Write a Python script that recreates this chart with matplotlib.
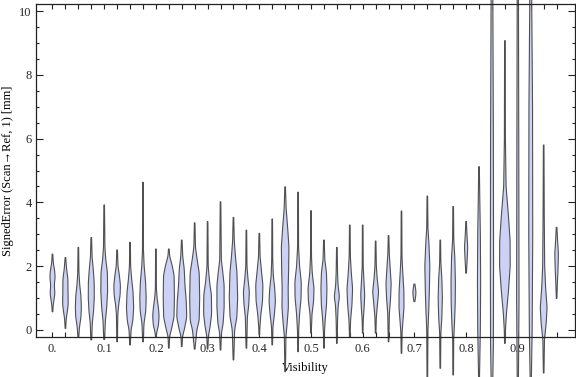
import numpy as np
import matplotlib.pyplot as plt
from matplotlib.ticker import FixedLocator, MultipleLocator

plt.rcParams['font.family'] = ['Liberation Serif', 'DejaVu Serif']

# one violin per visibility bin
visibility = [0.0, 0.025, 0.05, 0.075, 0.1, 0.125, 0.15, 0.175, 0.2, 0.225,
              0.25, 0.275, 0.3, 0.325, 0.35, 0.375, 0.4, 0.425, 0.45, 0.475,
              0.5, 0.525, 0.55, 0.575, 0.6, 0.625, 0.65, 0.675, 0.7, 0.725,
              0.75, 0.775, 0.8, 0.825, 0.85, 0.875, 0.9, 0.925, 0.95, 0.975]

# outline of each violin: error levels [mm] (top -> bottom)
levels = [
    [2.38, 2.1, 1.85, 1.65, 1.4, 1.15, 0.95, 0.75, 0.57],
    [2.27, 1.9, 1.6, 1.2, 0.8, 0.55, 0.35, 0.05],
    [2.59, 1.8, 1.4, 1.1, 0.7, 0.4, 0.1, -0.21],
    [2.9, 2.3, 1.9, 1.5, 1.0, 0.6, 0.2, -0.31],
    [3.92, 2.6, 2.2, 1.8, 1.2, 0.7, 0.3, -0.3],
    [2.51, 2.0, 1.7, 1.4, 1.1, 0.8, 0.5, -0.37],
    [2.75, 2.0, 1.6, 1.2, 0.7, 0.3, 0.0, -0.47],
    [4.63, 2.5, 2.0, 1.5, 1.0, 0.6, 0.2, -0.37],
    [2.54, 1.3, 1.0, 0.7, 0.45, 0.15, -0.05, -0.21],
    [2.54, 2.3, 2.0, 1.7, 1.0, 0.4, 0.0, -0.2, -0.57],
    [2.82, 2.3, 1.9, 1.4, 0.9, 0.4, 0.0, -0.2, -0.52],
    [3.36, 2.6, 2.2, 1.8, 1.0, 0.3, 0.0, -0.6],
    [3.4, 2.0, 1.5, 1.1, 0.5, 0.1, -0.2, -0.6],
    [4.02, 2.2, 1.8, 1.4, 0.7, 0.2, -0.1, -0.63],
    [3.53, 2.8, 2.3, 1.8, 1.0, 0.4, 0.0, -0.94],
    [3.13, 2.0, 1.6, 1.2, 0.8, 0.4, -0.57],
    [3.03, 2.3, 1.9, 1.4, 0.9, 0.5, 0.1, -0.16],
    [3.48, 2.2, 1.7, 1.3, 0.9, 0.5, 0.1, -0.47],
    [4.49, 3.8, 3.2, 2.6, 1.9, 1.3, 0.7, 0.2, -0.2, -1.31],
    [4.32, 2.6, 2.0, 1.5, 1.0, 0.5, 0.0, -0.68],
    [3.74, 2.3, 1.8, 1.3, 0.9, 0.5, -0.1],
    [2.82, 2.2, 1.8, 1.3, 0.8, 0.3, -0.1, -0.57],
    [2.59, 1.8, 1.4, 1.05, 0.75, 0.3, -0.42],
    [3.29, 2.3, 1.8, 1.3, 0.8, 0.3, -0.21],
    [3.29, 2.0, 1.5, 1.1, 0.7, 0.3, -0.1],
    [2.79, 2.0, 1.6, 1.2, 0.8, 0.4, -0.1],
    [2.96, 2.4, 1.9, 1.45, 1.0, 0.5, -0.37],
    [3.73, 2.3, 1.8, 1.2, 0.7, 0.3, -0.1, -0.73],
    [1.44, 1.3, 1.15, 1.0, 0.89],
    [4.2, 3.2, 2.7, 2.0, 1.2, 0.6, 0.0, -1.6],
    [2.82, 2.1, 1.6, 1.0, 0.4, -0.1, -1.2],
    [3.87, 2.8, 2.3, 1.5, 0.8, 0.2, -0.3, -1.41],
    [3.4, 3.0, 2.6, 2.3, 1.78],
    [5.12, 4.0, 3.0, 1.5, 0.0, -1.6],
    [11.0, 6.0, 2.0, -0.5, -1.6],
    [9.07, 6.0, 4.5, 3.6, 2.8, 2.0, 1.2, 0.5, 0.0, -0.42],
    [11.0, 5.0, 1.0, -1.6],
    [11.0, 7.0, 3.0, 0.0, -1.6],
    [5.8, 3.5, 2.0, 1.3, 0.7, 0.2, -0.3, -1.35],
    [3.22, 2.8, 2.4, 1.9, 1.4, 0.99],
]

# half widths at those levels (pixels of the original)
widths = [
    [0.3, 0.8, 2.2, 2.6, 1.8, 2.4, 1.5, 0.6, 0.3],
    [0.3, 1.2, 2.5, 2.6, 2.8, 1.8, 0.8, 0.3],
    [0.3, 0.6, 1.4, 2.5, 3.0, 2.6, 1.2, 0.4],
    [0.3, 0.8, 2.0, 2.9, 3.0, 2.3, 1.0, 0.4],
    [0.3, 0.7, 1.6, 3.2, 3.4, 2.5, 1.2, 0.4],
    [0.3, 0.9, 2.3, 3.3, 3.0, 1.6, 0.7, 0.3],
    [0.3, 0.6, 1.6, 3.0, 3.6, 2.8, 1.0, 0.3],
    [0.3, 0.5, 1.2, 2.6, 3.2, 2.8, 1.0, 0.3],
    [0.3, 0.5, 1.2, 2.5, 3.2, 2.6, 1.0, 0.3],
    [0.3, 0.9, 3.5, 5.3, 5.6, 5.2, 2.5, 0.8, 0.3],
    [0.3, 1.0, 2.5, 3.2, 4.5, 5.0, 2.5, 0.8, 0.3],
    [0.3, 0.8, 2.5, 4.5, 5.0, 4.5, 2.2, 0.3],
    [0.3, 0.6, 2.0, 3.8, 4.0, 2.5, 0.8, 0.3],
    [0.3, 0.8, 2.3, 3.6, 3.6, 2.6, 0.9, 0.3],
    [0.3, 0.8, 2.0, 3.5, 4.2, 3.4, 1.2, 0.3],
    [0.3, 0.6, 1.6, 3.0, 2.4, 1.0, 0.3],
    [0.3, 0.8, 2.0, 3.6, 3.2, 1.6, 0.6, 0.3],
    [0.3, 0.5, 1.1, 2.5, 3.2, 2.2, 0.7, 0.3],
    [0.3, 1.0, 2.5, 3.8, 3.5, 3.0, 3.2, 2.0, 0.8, 0.3],
    [0.3, 0.5, 1.5, 3.2, 3.0, 1.5, 0.6, 0.3],
    [0.3, 0.5, 1.2, 3.0, 2.6, 1.0, 0.3],
    [0.3, 0.9, 2.5, 3.0, 2.6, 1.2, 0.5, 0.3],
    [0.3, 0.7, 1.2, 2.6, 1.3, 0.7, 0.3],
    [0.3, 0.6, 1.5, 2.8, 2.2, 0.8, 0.3],
    [0.3, 0.5, 1.3, 2.0, 1.4, 0.5, 0.3],
    [0.3, 0.7, 1.6, 3.0, 1.8, 0.7, 0.3],
    [0.3, 0.7, 1.7, 2.6, 2.0, 0.8, 0.3],
    [0.3, 0.5, 1.3, 2.4, 2.5, 1.5, 0.6, 0.3],
    [0.4, 1.2, 1.6, 1.0, 0.4],
    [0.3, 0.6, 1.6, 2.5, 2.0, 1.4, 0.6, 0.3],
    [0.3, 0.6, 1.6, 2.1, 1.6, 0.6, 0.3],
    [0.3, 0.6, 1.6, 2.2, 2.0, 1.3, 0.5, 0.3],
    [0.3, 0.8, 1.6, 1.2, 0.3],
    [0.3, 0.8, 1.3, 1.6, 1.3, 0.4],
    [0.8, 1.4, 1.6, 1.4, 0.8],
    [0.3, 0.5, 1.2, 3.5, 5.2, 5.3, 3.5, 1.5, 0.6, 0.3],
    [0.6, 1.0, 1.2, 0.6],
    [0.8, 1.8, 2.0, 1.4, 0.6],
    [0.3, 0.6, 1.0, 2.0, 3.4, 2.5, 0.8, 0.3],
    [0.3, 1.0, 1.8, 1.4, 0.7, 0.3],
]

xtick_pos = [0.0, 0.1, 0.2, 0.3, 0.4, 0.5, 0.6, 0.7, 0.8, 0.9]
xtick_lab = ['0.', '0.1', '0.2', '0.3', '0.4', '0.5', '0.6', '0.7', '0.8', '0.9']

fig = plt.figure(figsize=(5.76, 3.77), dpi=100)
ax = fig.add_axes([36/576, 40/377, 539/576, 333/377])
ax.set_xlim(-0.0319, 1.0106)
ax.set_ylim(-0.22, 10.22)

px = 1.0 / 517.0  # one pixel in visibility units
fill_c = '#cbd2f5'
edge_c = '#505050'

for v, lv, wd in zip(visibility, levels, widths):
    lv = np.asarray(lv)
    wd = np.asarray(wd)
    yy = np.linspace(lv[-1], lv[0], 600)
    ww = np.interp(yy, lv[::-1], wd[::-1])
    # smooth the corners a bit
    step = yy[1] - yy[0]
    n = max(3, int(0.18 / step))
    padded = np.concatenate([np.full(n, ww[0]), ww, np.full(n, ww[-1])])
    ww = np.convolve(padded, np.ones(n) / n, mode='same')[n:-n]
    xs = np.concatenate([v - ww * px, (v + ww * px)[::-1]])
    ys = np.concatenate([yy, yy[::-1]])
    ax.fill(xs, ys, facecolor=fill_c, edgecolor=edge_c, lw=0.8,
            clip_on=False, zorder=2)

ax.xaxis.set_major_locator(FixedLocator(xtick_pos))
ax.set_xticklabels(xtick_lab)
ax.xaxis.set_minor_locator(FixedLocator(visibility))
ax.yaxis.set_major_locator(MultipleLocator(2))
ax.yaxis.set_minor_locator(MultipleLocator(0.5))

ax.tick_params(which='both', direction='in', top=True, right=True,
               width=0.8, color='#222222', labelsize=9, labelcolor='#262626')
ax.tick_params(axis='x', which='both', length=3.6, pad=4)
ax.tick_params(axis='y', which='major', length=4.8, pad=3)
ax.tick_params(axis='y', which='minor', length=2.4)
for s in ax.spines.values():
    s.set_linewidth(0.9)
    s.set_color('#222222')

ax.set_xlabel('Visibility', fontsize=9, labelpad=5)
ax.set_ylabel('SignedError (Scan\u2192Ref, 1) [mm]', fontsize=9, labelpad=4)

fig.savefig('out.png', dpi=100)
